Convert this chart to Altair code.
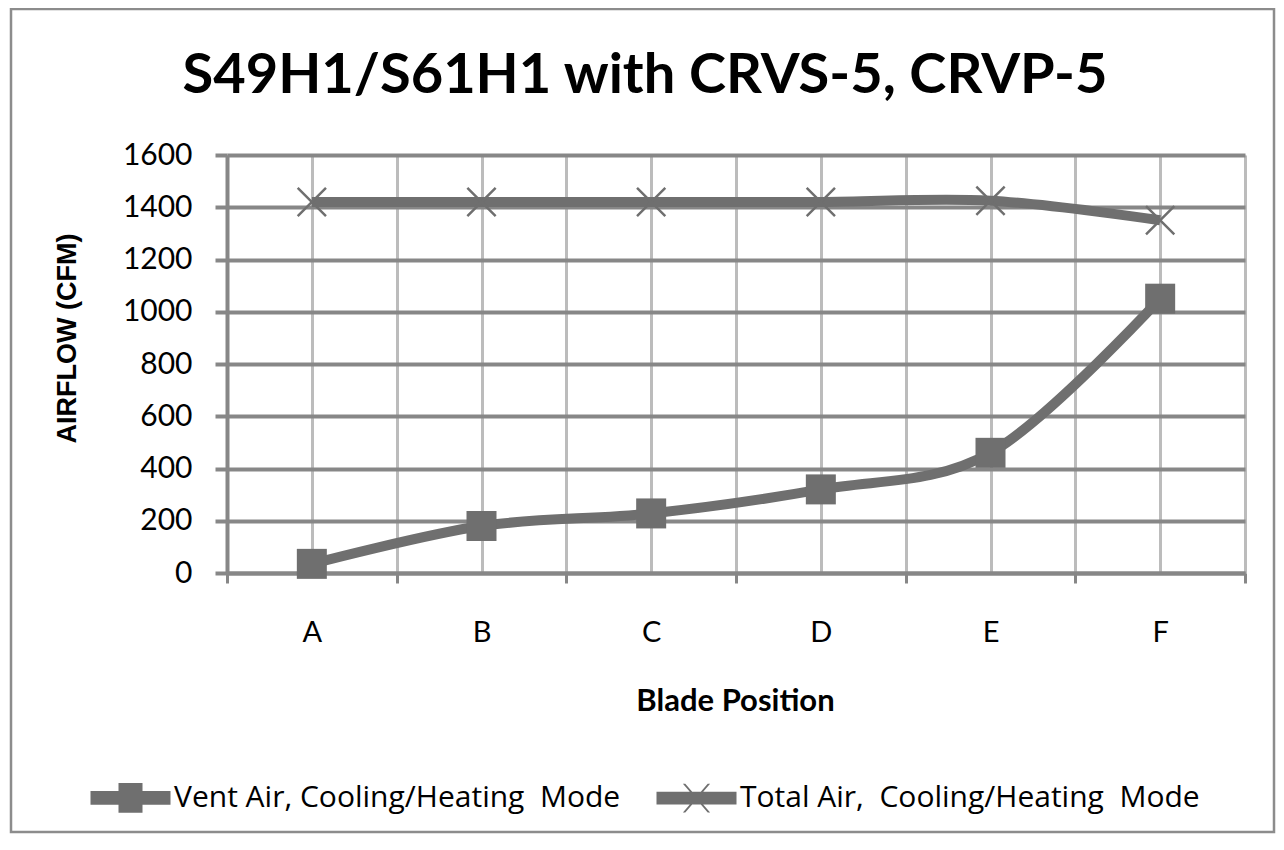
import altair as alt
import pandas as pd

title_text = "S49H1/S61H1 with CRVS-5, CRVP-5"
categories = ["A", "B", "C", "D", "E", "F"]
vent_air = [35, 180, 228, 320, 460, 1050]
total_air = [1420, 1420, 1420, 1420, 1425, 1350]
series_names = ["Vent Air,\u00a0Cooling/Heating\u00a0\u00a0Mode", "Total Air,\u00a0\u00a0Cooling/Heating\u00a0\u00a0Mode"]
y_ticks = [0, 200, 400, 600, 800, 1000, 1200, 1400, 1600]

rows = []
for i, c in enumerate(categories):
    rows.append({"cat": c, "pos": i + 0.5, "value": vent_air[i], "series": series_names[0]})
for i, c in enumerate(categories):
    rows.append({"cat": c, "pos": i + 0.5, "value": total_air[i], "series": series_names[1]})
df = pd.DataFrame(rows)

GRAY = "#6f6f6f"
DARK = "#878787"
LIGHT = "#bcbcbc"
FONT = "Lato"

n = len(categories)
xvals = [k / 2 for k in range(0, 2 * n + 1)]
label_arr = "[" + ",".join("'" + c + "'" for c in categories) + "]"

x_enc = alt.X(
    "pos:Q",
    scale=alt.Scale(domain=[0, n], nice=False, zero=False),
    axis=alt.Axis(
        values=xvals,
        labelExpr=f"datum.value % 1 === 0.5 ? {label_arr}[floor(datum.value)] : ''",
        grid=True, gridColor=LIGHT, gridWidth=3,
        domainColor=DARK, domainWidth=4,
        tickColor=DARK, tickWidth=3, tickSize=10,
        tickOpacity={"condition": {"test": "datum.value % 1 !== 0", "value": 0}, "value": 1},
        labelFont=FONT, labelFontSize=29, labelColor="black",
        labelBaseline="alphabetic", labelPadding=58,
        title="Blade Position", titleFont=FONT, titleFontSize=31, titleFontWeight="bold",
        titleColor="black", titleBaseline="alphabetic", titleY=137, titleX=508,
    ),
)
y_enc = alt.Y(
    "value:Q",
    scale=alt.Scale(domain=[0, 1600], nice=False),
    axis=alt.Axis(
        values=y_ticks, format="d",
        grid=True, gridColor=DARK, gridWidth=4,
        domainColor=DARK, domainWidth=4,
        tickColor=DARK, tickWidth=4, tickSize=12,
        labelFont=FONT, labelFontSize=30, labelColor="black", labelPadding=23,
        title="AIRFLOW (CFM)", titleFont="Liberation Sans", titleFontSize=27,
        titleFontWeight="bold", titleColor="black", titleAngle=270,
        titleBaseline="alphabetic", titleAlign="center", titleX=-152, titleY=183,
    ),
)

base = alt.Chart(df)

lines = base.mark_line(
    interpolate="cardinal", tension=0, strokeWidth=10, color=GRAY, strokeCap="butt"
).encode(x=x_enc, y=y_enc, detail="series:N")

squares = base.transform_filter(
    alt.datum.series == series_names[0]
).mark_point(shape="square", filled=True, size=900, color=GRAY, opacity=1).encode(
    x="pos:Q", y="value:Q"
)

crosses = base.transform_filter(
    alt.datum.series == series_names[1]
).mark_point(shape="M-1,-1L1,1M-1,1L1,-1", filled=False, size=800, color=GRAY,
             strokeWidth=2.5, opacity=1).encode(x="pos:Q", y="value:Q")

vent_sym = ("M-1,-0.17L-0.3,-0.17L-0.3,-0.37L0.3,-0.37L0.3,-0.17L1,-0.17L1,0.17"
            "L0.3,0.17L0.3,0.37L-0.3,0.37L-0.3,0.17L-1,0.17Z")
total_sym = ("M-1,-0.16L1,-0.16L1,0.16L-1,0.16Z "
             "M-0.34,-0.36L-0.28,-0.36L0.34,0.36L0.28,0.36Z "
             "M0.28,-0.36L0.34,-0.36L-0.28,0.36L-0.34,0.36Z")

legend_layer = base.transform_filter("false").mark_point(
    filled=True, color=GRAY, stroke=GRAY, strokeWidth=1
).encode(
    x="pos:Q", y="value:Q",
    shape=alt.Shape(
        "series:N",
        scale=alt.Scale(domain=series_names, range=[vent_sym, total_sym]),
        legend=alt.Legend(
            title=None, orient="none", legendX=-137, legendY=602,
            direction="horizontal", columns=2, columnPadding=33,
            symbolSize=6400, symbolFillColor=GRAY, symbolStrokeColor=GRAY,
            symbolStrokeWidth=1, symbolOpacity=1, labelOffset=3,
            labelFont="Open Sans", labelFontSize=30, labelColor="black", labelLimit=0,
        ),
    ),
)

single = alt.Chart(pd.DataFrame({"t": [title_text]}))

frame = single.mark_rect(
    fill=None, stroke="#8c8c8c", strokeWidth=2.5
).encode(x=alt.value(-216), x2=alt.value(1047), y=alt.value(-146), y2=alt.value(677))

title = single.mark_text(
    font=FONT, fontSize=56, fontWeight="bold", color="black",
    align="center", baseline="alphabetic"
).encode(text="t:N", x=alt.value(418), y=alt.value(-62))

chart = alt.layer(frame, lines, squares, crosses, legend_layer, title).properties(
    width=1018,
    height=418,
    padding={"left": 219, "top": 147, "right": 31, "bottom": 269},
    autosize="none",
).configure_view(stroke=None).configure(background="white")

chart.save("out.html", embed_options={"renderer": "svg", "actions": False})
